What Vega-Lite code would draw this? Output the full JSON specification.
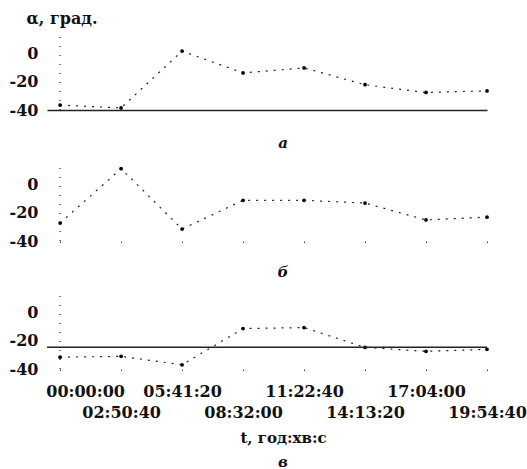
{
  "$schema": "https://vega.github.io/schema/vega-lite/v6.json",
  "background": "white",
  "padding": {"left": 9, "top": 10, "right": 0, "bottom": 0},
  "spacing": 15,
  "data": {"values": [
    {"panel": "а", "t": 0, "alpha": -36.5},
    {"panel": "а", "t": 10240, "alpha": -38.5},
    {"panel": "а", "t": 20480, "alpha": 2},
    {"panel": "а", "t": 30720, "alpha": -13.6},
    {"panel": "а", "t": 40960, "alpha": -10},
    {"panel": "а", "t": 51200, "alpha": -22},
    {"panel": "а", "t": 61440, "alpha": -27.5},
    {"panel": "а", "t": 71680, "alpha": -26.4},
    {"panel": "б", "t": 0, "alpha": -27.2},
    {"panel": "б", "t": 10240, "alpha": 11.5},
    {"panel": "б", "t": 20480, "alpha": -31.5},
    {"panel": "б", "t": 30720, "alpha": -11},
    {"panel": "б", "t": 40960, "alpha": -11},
    {"panel": "б", "t": 51200, "alpha": -13},
    {"panel": "б", "t": 61440, "alpha": -25},
    {"panel": "б", "t": 71680, "alpha": -23},
    {"panel": "в", "t": 0, "alpha": -31.6},
    {"panel": "в", "t": 10240, "alpha": -31},
    {"panel": "в", "t": 20480, "alpha": -37},
    {"panel": "в", "t": 30720, "alpha": -11.2},
    {"panel": "в", "t": 40960, "alpha": -10.5},
    {"panel": "в", "t": 51200, "alpha": -24.6},
    {"panel": "в", "t": 61440, "alpha": -27.4},
    {"panel": "в", "t": 71680, "alpha": -26}
  ]},
  "config": {
    "view": {"stroke": null},
    "font": "DejaVu Serif",
    "axis": {"labelFont": "DejaVu Serif", "labelFontWeight": "bold", "labelFontSize": 16, "labelColor": "#111", "grid": false},
    "title": {"font": "DejaVu Serif", "fontSize": 15, "fontWeight": "bold", "fontStyle": "italic", "color": "#111"}
  },
  "vconcat": [
    {
      "width": 440, "height": 73,
      "title": {"text": "а", "orient": "bottom", "offset": 18, "dx": 16},
      "transform": [{"filter": "datum.panel == 'а'"}],
      "layer": [
        {
          "mark": {"type": "line", "strokeDash": [2, 6], "strokeWidth": 1.2, "color": "#222"},
          "encoding": {
            "x": {"field": "t", "type": "quantitative", "scale": {"domain": [-2200, 71680], "nice": false, "zero": false},
                  "axis": {"values": [0, 10240, 20480, 30720, 40960, 51200, 61440, 71680], "tickCount": 20, "labels": false, "ticks": false, "domain": true, "domainColor": "#222", "domainWidth": 1.5, "title": null}},
            "y": {"field": "alpha", "type": "quantitative", "scale": {"domain": [-40, 12], "nice": false, "zero": false},
                  "axis": {"values": [0, -20, -40], "tickCount": 10, "ticks": false, "domain": false, "labelPadding": 9, "labelBaseline": "middle",
                           "labelExpr": "datum.value < 0 ? '-' + abs(datum.value) : '' + datum.value", "labelOverlap": false, "labelBound": false, "labelFlush": false,
                           "title": "α, град.", "titleAngle": 0, "titleAlign": "left", "titleX": -21, "titleY": -14, "titleBaseline": "alphabetic",
                           "titleFont": "DejaVu Serif", "titleFontSize": 16, "titleFontWeight": "bold", "titleColor": "#111"}}
          }
        },
        {
          "mark": {"type": "point", "filled": true, "size": 14, "color": "#000", "opacity": 1},
          "encoding": {"x": {"field": "t", "type": "quantitative"}, "y": {"field": "alpha", "type": "quantitative"}}
        },
        {
          "data": {"values": [{"t": 0}]},
          "mark": {"type": "rule", "strokeDash": [1, 8], "strokeWidth": 1.2, "color": "#222"},
          "encoding": {"x": {"field": "t", "type": "quantitative"}, "y": {"datum": 12}, "y2": {"datum": -40}}
        }
      ]
    },
    {
      "width": 440, "height": 73,
      "title": {"text": "б", "orient": "bottom", "offset": 16, "dx": 16},
      "transform": [{"filter": "datum.panel == 'б'"}],
      "layer": [
        {
          "mark": {"type": "line", "strokeDash": [2, 6], "strokeWidth": 1.2, "color": "#222"},
          "encoding": {
            "x": {"field": "t", "type": "quantitative", "scale": {"domain": [-2200, 71680], "nice": false, "zero": false},
                  "axis": {"values": [0, 10240, 20480, 30720, 40960, 51200, 61440, 71680], "tickCount": 20, "labels": false, "ticks": true, "tickSize": 1.5, "tickColor": "#444", "domain": false, "title": null}},
            "y": {"field": "alpha", "type": "quantitative", "scale": {"domain": [-40, 12], "nice": false, "zero": false},
                  "axis": {"values": [0, -20, -40], "tickCount": 10, "ticks": false, "domain": false, "labelPadding": 9, "labelBaseline": "middle",
                           "labelExpr": "datum.value < 0 ? '-' + abs(datum.value) : '' + datum.value", "labelOverlap": false, "labelBound": false, "labelFlush": false,
                           "title": null}}
          }
        },
        {
          "mark": {"type": "point", "filled": true, "size": 14, "color": "#000", "opacity": 1},
          "encoding": {"x": {"field": "t", "type": "quantitative"}, "y": {"field": "alpha", "type": "quantitative"}}
        },
        {
          "data": {"values": [{"t": 0}]},
          "mark": {"type": "rule", "strokeDash": [1, 8], "strokeWidth": 1.2, "color": "#222"},
          "encoding": {"x": {"field": "t", "type": "quantitative"}, "y": {"datum": 12}, "y2": {"datum": -40}}
        }
      ]
    },
    {
      "width": 440, "height": 73,
      "title": {"text": "в", "orient": "bottom", "offset": 9, "dx": 16},
      "transform": [{"filter": "datum.panel == 'в'"}],
      "layer": [
        {
          "mark": {"type": "line", "strokeDash": [2, 6], "strokeWidth": 1.2, "color": "#222"},
          "encoding": {
            "x": {"field": "t", "type": "quantitative", "scale": {"domain": [-2200, 71680], "nice": false, "zero": false},
                  "axis": {"values": [0, 10240, 20480, 30720, 40960, 51200, 61440, 71680], "tickCount": 20,
                           "labelExpr": "utcFormat(datum.value * 1000, '%H:%M:%S')",
                           "labelPadding": {"condition": {"test": "round(datum.value / 10240) % 2 == 1", "value": 34}, "value": 13},
                           "labelOffset": {"condition": {"test": "datum.value == 0", "value": 25}, "value": 0},
                           "labelBaseline": "top", "labelAlign": "center",
                           "labelOverlap": false, "labelFlush": false, "labelBound": false,
                           "ticks": true, "tickSize": 1.5, "tickColor": "#444", "domain": false,
                           "title": "t, год:хв:с", "titleFont": "DejaVu Serif", "titleFontSize": 15, "titleFontWeight": "bold", "titleColor": "#111",
                           "titleX": 236, "titlePadding": 10}},
            "y": {"field": "alpha", "type": "quantitative", "scale": {"domain": [-40, 12], "nice": false, "zero": false},
                  "axis": {"values": [0, -20, -40], "tickCount": 10, "ticks": false, "domain": false, "labelPadding": 9, "labelBaseline": "middle",
                           "labelExpr": "datum.value < 0 ? '-' + abs(datum.value) : '' + datum.value", "labelOverlap": false, "labelBound": false, "labelFlush": false,
                           "title": null}}
          }
        },
        {
          "mark": {"type": "point", "filled": true, "size": 14, "color": "#000", "opacity": 1},
          "encoding": {"x": {"field": "t", "type": "quantitative"}, "y": {"field": "alpha", "type": "quantitative"}}
        },
        {
          "data": {"values": [{"t": 0}]},
          "mark": {"type": "rule", "strokeDash": [1, 8], "strokeWidth": 1.2, "color": "#222"},
          "encoding": {"x": {"field": "t", "type": "quantitative"}, "y": {"datum": 12}, "y2": {"datum": -40}}
        },
        {
          "data": {"values": [{"level": -24.5}]},
          "mark": {"type": "rule", "strokeWidth": 1.5, "color": "#222"},
          "encoding": {"y": {"field": "level", "type": "quantitative"}}
        }
      ]
    }
  ]
}
